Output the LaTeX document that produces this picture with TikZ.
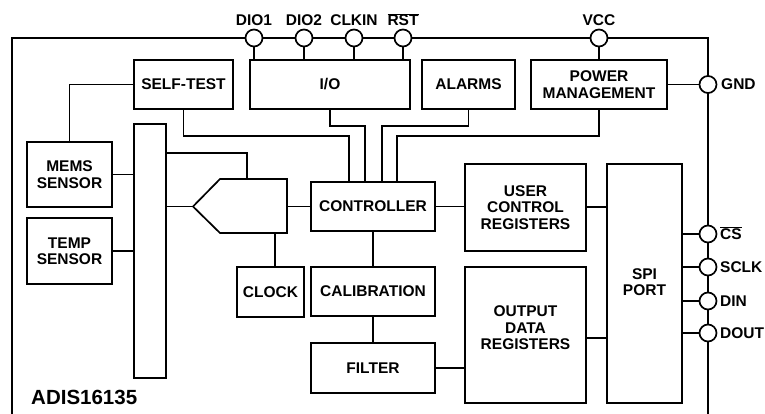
\documentclass[tikz,border=0pt]{standalone}
\usepackage{fontspec}
\setmainfont{Liberation Sans}
\begin{document}
\begin{tikzpicture}[x=1pt,y=-1pt,
  every node/.style={font=\bfseries\fontsize{15.5}{16.5}\selectfont, inner sep=0pt},
  blk/.style={draw, line width=1.7pt, align=center},
  wire/.style={line width=1.7pt},
  pin/.style={circle, draw, fill=white, line width=1.7pt, minimum size=17pt, inner sep=0pt},
  plabel/.style={anchor=base},
  slabel/.style={anchor=base west}]
\useasboundingbox (0,0) rectangle (765,414);
\clip (0,0) rectangle (765,414);

% pin positions
\coordinate (p-dio1) at (254,38);
\coordinate (p-dio2) at (304,38);
\coordinate (p-clkin) at (354,38);
\coordinate (p-rst) at (403,38);
\coordinate (p-vcc) at (599,38);
\coordinate (p-gnd) at (708,84.5);
\coordinate (p-cs) at (708,234);
\coordinate (p-sclk) at (708,267);
\coordinate (p-din) at (708,301);
\coordinate (p-dout) at (708,333);

% frame
\draw[wire] (12,420) -- (12,38) -- (708,38) -- (708,420);

% blocks
\node[blk, minimum width=99pt, minimum height=49pt] (selftest) at (183.5,84.5) {SELF-TEST};
\node[blk, minimum width=160pt, minimum height=49pt] (io) at (330,84.5) {I/O};
\node[blk, minimum width=93pt, minimum height=49pt] (alarms) at (468.5,84.5) {ALARMS};
\node[blk, minimum width=136pt, minimum height=49pt] (power) at (599,84.5) {POWER\\MANAGEMENT};
\node[blk, minimum width=85pt, minimum height=65pt] (mems) at (69.5,174.5) {MEMS\\SENSOR};
\node[blk, minimum width=85pt, minimum height=66pt] (temp) at (69.5,251) {TEMP\\SENSOR};
\node[blk, minimum width=32pt, minimum height=254pt] (mux) at (150,251) {};
\node[blk, minimum width=67pt, minimum height=50pt] (clock) at (270.5,292) {CLOCK};
\node[blk, minimum width=124pt, minimum height=49pt] (ctrl) at (373,206.5) {CONTROLLER};
\node[blk, minimum width=124pt, minimum height=49pt] (calib) at (373,291.5) {CALIBRATION};
\node[blk, minimum width=124pt, minimum height=50pt] (filter) at (373,368) {FILTER};
\node[blk, minimum width=121pt, minimum height=87pt] (ucr) at (525.5,207.5) {USER\\CONTROL\\REGISTERS};
\node[blk, minimum width=121pt, minimum height=136pt] (odr) at (525.5,335) {};
\node (odrtext) at (525.5,328) [align=center] {OUTPUT\\DATA\\REGISTERS};
\node[blk, minimum width=75pt, minimum height=239pt] (spi) at (644.5,283.5) {};
\node (spitext) at (644.5,282) [align=center] {SPI\\PORT};

% ADC shape
\coordinate (adctip) at (193,206.5);
\coordinate (adcright) at (287,206.5);
\coordinate (adctop) at (247,179);
\coordinate (adcbot) at (275,233);
\draw[wire] (adctip) -- (220,179) -- (287,179) -- (287,233) -- (220,233) -- cycle;

% connectors
\draw[wire] (p-dio1) -- (p-dio1 |- io.north);
\draw[wire] (p-dio2) -- (p-dio2 |- io.north);
\draw[wire] (p-clkin) -- (p-clkin |- io.north);
\draw[wire] (p-rst) -- (p-rst |- io.north);
\draw[wire] (p-vcc) -- (power.north);
\draw[wire] (power.east) -- (p-gnd);
\draw[wire] (selftest.west) -| (mems.north);
\draw[wire] (mems.east) -- (mems.east -| mux.west);
\draw[wire] (temp.east) -- (temp.east -| mux.west);
\draw[wire] (adctip -| mux.east) -- (adctip);
\draw[wire] (mux.east |- 0,153) -| (adctop);
\draw[wire] (adcbot) -- (adcbot |- clock.north);
\draw[wire] (adcright) -- (adcright -| ctrl.west);
\draw[wire] (ctrl.south) -- (calib.north);
\draw[wire] (calib.south) -- (filter.north);
\draw[wire] (ctrl.east) -- (ctrl.east -| ucr.west);
\draw[wire] (ucr.east |- 0,207) -- (spi.west |- 0,207);
\draw[wire] (filter.east) -- (filter.east -| odr.west);
\draw[wire] (odr.east |- 0,338) -- (spi.west |- 0,338);
\draw[wire] (selftest.south) -- (selftest.south |- 0,136) -| ([xshift=-24pt]ctrl.north);
\draw[wire] (io.south) -- (io.south |- 0,126) -| ([xshift=-8pt]ctrl.north);
\draw[wire] (alarms.south) -- (alarms.south |- 0,126) -| ([xshift=9pt]ctrl.north);
\draw[wire] (power.south) -- (power.south |- 0,136) -| ([xshift=24pt]ctrl.north);
\draw[wire] (spi.east |- p-cs) -- (p-cs);
\draw[wire] (spi.east |- p-sclk) -- (p-sclk);
\draw[wire] (spi.east |- p-din) -- (p-din);
\draw[wire] (spi.east |- p-dout) -- (p-dout);

% pins
\node[pin] (dio1) at (p-dio1) {};
\node[pin] (dio2) at (p-dio2) {};
\node[pin] (clkin) at (p-clkin) {};
\node[pin] (rst) at (p-rst) {};
\node[pin] (vcc) at (p-vcc) {};
\node[pin] (gnd) at (p-gnd) {};
\node[pin] (cs) at (p-cs) {};
\node[pin] (sclk) at (p-sclk) {};
\node[pin] (din) at (p-din) {};
\node[pin] (dout) at (p-dout) {};

% pin labels
\node[plabel] (l-dio1) at (254,26) {DIO1};
\node[plabel] (l-dio2) at (304,26) {DIO2};
\node[plabel] (l-clkin) at (354,26) {CLKIN};
\node[plabel] (l-rst) at (403,26) {$\overline{\mbox{RST}}$};
\node[plabel] (l-vcc) at (599,26) {VCC};
\node[slabel] (l-gnd) at (721,90) {GND};
\node[slabel] (l-cs) at (720,239) {$\overline{\mbox{CS}}$};
\node[slabel] (l-sclk) at (720,272) {SCLK};
\node[slabel] (l-din) at (720,306) {DIN};
\node[slabel] (l-dout) at (720,338) {DOUT};

\node[anchor=base west, font=\bfseries\fontsize{20.5}{22}\selectfont] (title) at (31,404) {ADIS16135};
\end{tikzpicture}
\end{document}
